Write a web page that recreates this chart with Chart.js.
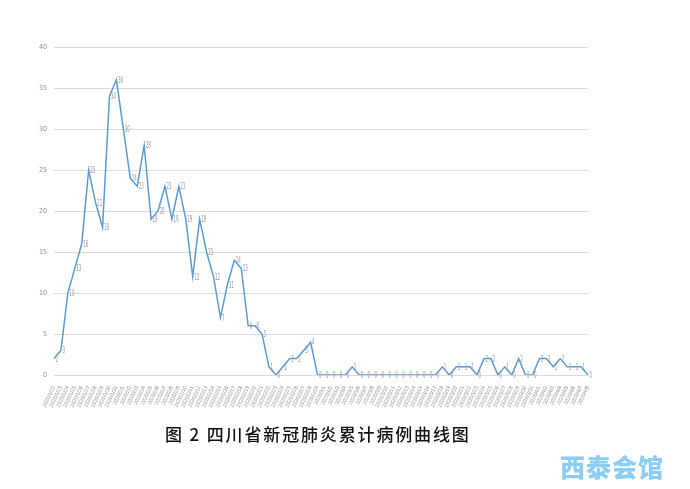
<!DOCTYPE html>
<html>
<head>
<meta charset="utf-8">
<script src="https://cdn.jsdelivr.net/npm/chart.js@4/dist/chart.umd.min.js"></script>
<style>
  html, body { margin: 0; padding: 0; background: #fff; }
  #wrap { position: relative; width: 690px; height: 489px; }
  #caption {
    position: absolute; left: 165px; top: 421px;
    font-family: "Noto Sans CJK SC", sans-serif; font-size: 17px; font-weight: 500;
    letter-spacing: 1.85px; color: #111; white-space: nowrap;
  }
  #mark {
    position: absolute; left: 560px; top: 448px;
    font-family: "Noto Sans CJK SC", sans-serif; font-size: 25px; font-weight: 900;
    color: #8ccdf2; letter-spacing: 1px; white-space: nowrap;
  }
</style>
</head>
<body>
<div id="wrap">
  <canvas id="curve" width="690" height="489"></canvas>
  <div id="caption">图 2 四川省新冠肺炎累计病例曲线图</div>
  <div id="mark">西泰会馆</div>
</div>
<script>
// x labels (dates, too small to read in the picture)
const dates = [
  "2020/1/22", "2020/1/23", "2020/1/24", "2020/1/25", "2020/1/26", "2020/1/27", "2020/1/28",
  "2020/1/29", "2020/1/30", "2020/1/31", "2020/2/1", "2020/2/2", "2020/2/3", "2020/2/4",
  "2020/2/5", "2020/2/6", "2020/2/7", "2020/2/8", "2020/2/9", "2020/2/10", "2020/2/11",
  "2020/2/12", "2020/2/13", "2020/2/14", "2020/2/15", "2020/2/16", "2020/2/17", "2020/2/18",
  "2020/2/19", "2020/2/20", "2020/2/21", "2020/2/22", "2020/2/23", "2020/2/24", "2020/2/25",
  "2020/2/26", "2020/2/27", "2020/2/28", "2020/2/29", "2020/3/1", "2020/3/2", "2020/3/3",
  "2020/3/4", "2020/3/5", "2020/3/6", "2020/3/7", "2020/3/8", "2020/3/9", "2020/3/10",
  "2020/3/11", "2020/3/12", "2020/3/13", "2020/3/14", "2020/3/15", "2020/3/16", "2020/3/17",
  "2020/3/18", "2020/3/19", "2020/3/20", "2020/3/21", "2020/3/22", "2020/3/23", "2020/3/24",
  "2020/3/25", "2020/3/26", "2020/3/27", "2020/3/28", "2020/3/29", "2020/3/30", "2020/3/31",
  "2020/4/1", "2020/4/2", "2020/4/3", "2020/4/4", "2020/4/5", "2020/4/6", "2020/4/7", "2020/4/8"
];

// cases per day
const cases = [
  2, 3, 10, 13, 16, 25, 21, 18, 34, 36,
  30, 24, 23, 28, 19, 20, 23, 19, 23, 19,
  12, 19, 15, 12, 7, 11, 14, 13, 6, 6,
  5, 1, 0, 1, 2, 2, 3, 4, 0, 0,
  0, 0, 0, 1, 0, 0, 0, 0, 0, 0,
  0, 0, 0, 0, 0, 0, 1, 0, 1, 1,
  1, 0, 2, 2, 0, 1, 0, 2, 0, 0,
  2, 2, 1, 2, 1, 1, 1, 0
];

const yTicks = [0, 5, 10, 15, 20, 25, 30, 35, 40];

const narrowFont = '"DejaVu Sans Condensed", "Liberation Sans Narrow", "Liberation Sans", sans-serif';

// small gray value next to each point, squeezed like the source
const pointLabels = {
  id: "pointLabels",
  afterDatasetsDraw(chart) {
    const ctx = chart.ctx;
    const meta = chart.getDatasetMeta(0);
    ctx.save();
    ctx.fillStyle = "#959595";
    ctx.font = "8px " + narrowFont;
    ctx.textBaseline = "middle";
    meta.data.forEach((pt, i) => {
      ctx.save();
      ctx.translate(pt.x + 1.5, pt.y + 1);
      ctx.scale(0.55, 1);
      ctx.fillText(String(cases[i]), 0, 0);
      ctx.restore();
    });
    ctx.restore();
  }
};

new Chart(document.getElementById("curve").getContext("2d"), {
  type: "line",
  data: {
    labels: dates,
    datasets: [{
      data: cases,
      borderColor: "#5b9bd5",
      borderWidth: 1.5,
      pointRadius: 0,
      tension: 0,
      fill: false
    }]
  },
  options: {
    responsive: false,
    animation: false,
    layout: { padding: { top: 47, left: 36, right: 102, bottom: 70 } },
    plugins: {
      legend: { display: false },
      tooltip: { enabled: false }
    },
    scales: {
      x: {
        offset: false,
        grid: { display: false },
        border: { display: false },
        afterFit: s => { s.height = 44; },
        ticks: {
          autoSkip: false,
          maxRotation: 65,
          minRotation: 65,
          padding: 2,
          color: "#8a8a8a",
          font: { size: 5, family: narrowFont }
        }
      },
      y: {
        min: 0,
        max: 40,
        afterFit: s => { s.width = 18; },
        afterBuildTicks: s => { s.ticks = yTicks.map(v => ({ value: v })); },
        grid: { color: "#dcdcdc", lineWidth: 1, drawTicks: false },
        border: { display: false },
        ticks: {
          padding: 7,
          color: "#8c8c8c",
          font: { size: 7, family: narrowFont }
        }
      }
    }
  },
  plugins: [pointLabels]
});
</script>
</body>
</html>
